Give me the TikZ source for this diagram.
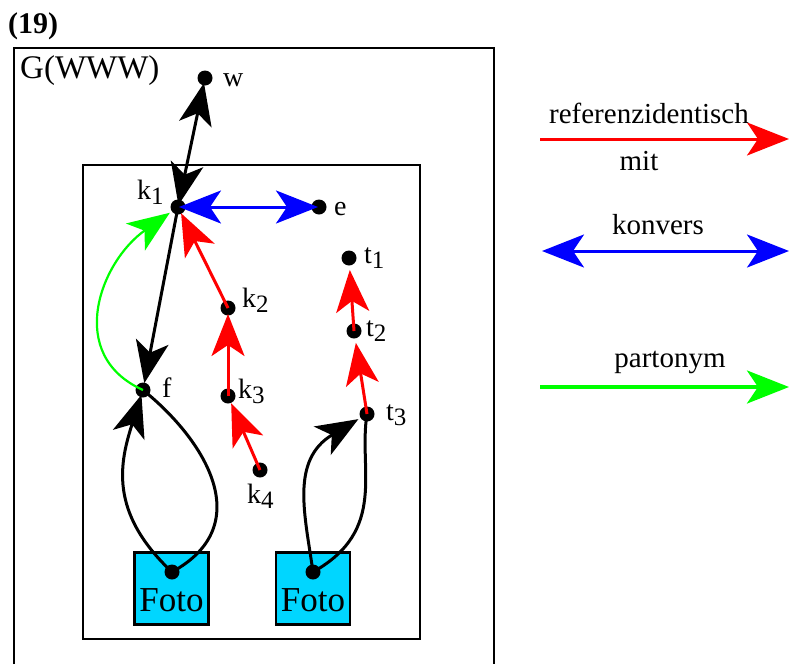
\documentclass[tikz,border=0pt]{standalone}
\usepackage{fontspec}
\setmainfont{Liberation Serif}
\usetikzlibrary{arrows.meta,positioning}

\definecolor{fotocyan}{RGB}{0,214,255}
\definecolor{refred}{RGB}{255,0,0}
\definecolor{konvblue}{RGB}{0,0,255}
\definecolor{partgreen}{RGB}{0,255,0}

\newcommand{\sz}[1]{\fontsize{#1}{#1}\selectfont}
\newcommand{\idx}[2]{#1\raisebox{-5pt}{\sz{25}#2}}

\tikzset{
  dot/.style={circle,fill=black,inner sep=0pt,minimum size=15pt},
  lab/.style={inner sep=0pt,anchor=base west,font=\sz{28}},
  leg/.style={inner sep=0pt,anchor=base,font=\sz{29}},
  conn/.style={line width=3pt},
  relarrow/.style={-{Stealth[length=42pt,width=33pt,inset=11pt]}},
  relboth/.style={{Stealth[length=42pt,width=33pt,inset=11pt]}-{Stealth[length=42pt,width=33pt,inset=11pt]}},
  fotobox/.style={draw,line width=2.5pt,fill=fotocyan,minimum width=74pt,minimum height=72pt,inner sep=0pt},
  frame/.style={line width=2.5pt}
}

\begin{document}
\begin{tikzpicture}[x=1pt,y=-1pt]
       \useasboundingbox (0,0) rectangle (789,664);

       % boxes
       \node[inner sep=0pt,anchor=base west,font=\sz{30}\bfseries] (num) at (8,33) {(19)};
       \draw[frame] (14,664) -- (14,48) -- (494,48) -- (494,664);
       \node[inner sep=0pt,anchor=base west,font=\sz{33}] (gwww) at (20,78) {G(WWW)};
       \draw[frame] (83,165) rectangle (420,639);

       % the points
       \node[dot] (w)  at (205,78)  {};
       \node[dot] (k1) at (178,207) {};
       \node[dot] (e)  at (319,207) {};
       \node[dot] (t1) at (349,258) {};
       \node[dot] (k2) at (228,308) {};
       \node[dot] (t2) at (354,331) {};
       \node[dot] (f)  at (143,390) {};
       \node[dot] (k3) at (228,396) {};
       \node[dot] (t3) at (367,414) {};
       \node[dot] (k4) at (260,470) {};

       \node[lab] (lw)  at (223,86)  {w};
       \node[lab] (lk1) at (137,199) {\idx{k}{1}};
       \node[lab] (le)  at (334,215) {e};
       \node[lab] (lt1) at (364,263) {\idx{t}{1}};
       \node[lab] (lk2) at (242,307) {\idx{k}{2}};
       \node[lab] (lt2) at (366,336) {\idx{t}{2}};
       \node[lab] (lf)  at (162,397) {f};
       \node[lab] (lk3) at (238,398) {\idx{k}{3}};
       \node[lab] (lt3) at (386,420) {\idx{t}{3}};
       \node[lab] (lk4) at (247,503) {\idx{k}{4}};

       % photos
       \node[fotobox] (foto1) at (171.5,588.5) {};
       \node[fotobox] (foto2) at (313,588.5) {};
       \node[inner sep=0pt,anchor=base,font=\sz{35}] (tf1) at ([yshift=14pt]foto1.south) {Foto};
       \node[inner sep=0pt,anchor=base,font=\sz{35}] (tf2) at ([yshift=14pt]foto2.south) {Foto};
       \node[dot] (p1) at (172,572) {};
       \node[dot] (p2) at (313,572) {};

       % black relations
       \draw[conn,relboth,shorten <=2pt,shorten >=5pt] (k1.center) -- (w.center);
       \draw[conn,relarrow,shorten >=7pt] (k1.center) -- (f.center);
       \draw[conn,relarrow,shorten >=5pt] (p1.center) .. controls (108,512) and (120,462) .. (f.center);
       \draw[conn] (f.center) .. controls (205,440) and (258,525) .. (p1.center);
       \draw[conn,relarrow,shorten >=10pt] (p2.center) .. controls (305,515) and (290,460) .. (t3.center);
       \draw[conn] (t3.center) .. controls (358,470) and (388,530) .. (p2.center);

       % konvers
       \draw[conn,konvblue,relboth,shorten <=1pt,shorten >=1pt] (k1.center) -- (e.center);

       % referenzidentisch
       \draw[conn,refred,relarrow,shorten >=7pt] (k2.center) -- (k1.center);
       \draw[conn,refred,relarrow,shorten >=6pt] (k3.center) -- (k2.center);
       \draw[conn,refred,relarrow,shorten >=8pt] (k4.center) -- (k3.center);
       \draw[conn,refred,relarrow,shorten >=12pt] (t2.center) -- (t1.center);
       \draw[conn,refred,relarrow,shorten >=12pt] (t3.center) -- (t2.center);

       % partonym
       \draw[line width=2.2pt,partgreen,relarrow,shorten >=10pt] (f.center) .. controls (65,355) and (100,262) .. (k1.center);

       % legend
       \coordinate (r0) at (540,139);
       \coordinate (r1) at (789,139);
       \coordinate (b0) at (542,251);
       \coordinate (b1) at (789,251);
       \coordinate (g0) at (540,387);
       \coordinate (g1) at (789,387);
       \draw[conn,refred,relarrow] (r0) -- (r1);
       \draw[conn,konvblue,relboth] (b0) -- (b1);
       \draw[line width=3.5pt,partgreen,relarrow] (g0) -- (g1);
       \node[leg] (lref)  at (649,123) {referenzidentisch};
       \node[leg] (lmit)  at (639,170) {mit};
       \node[leg] (lkonv) at (658,234) {konvers};
       \node[leg] (lpart) at (670,367) {partonym};
\end{tikzpicture}
\end{document}
